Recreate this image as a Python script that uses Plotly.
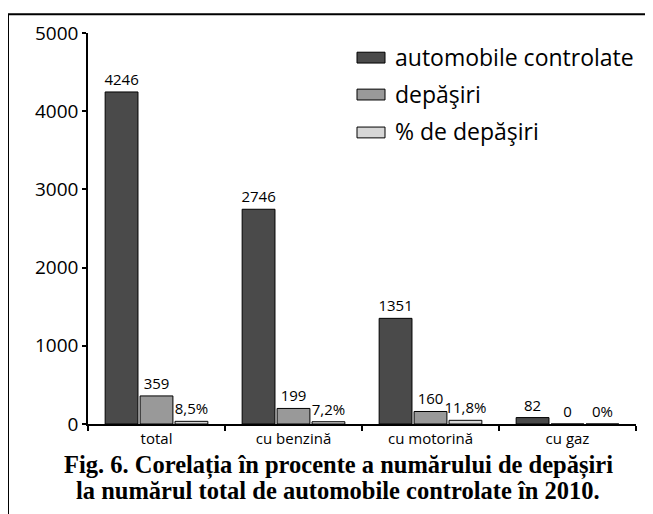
import plotly.graph_objects as go

categories = ["total", "cu benzină", "cu motorină", "cu gaz"]
automobile_controlate = [4246, 2746, 1351, 82]
depasiri = [359, 199, 160, 0]
pct_depasiri_labels = ["8,5%", "7,2%", "11,8%", "0%"]
pct_bar_heights = [34, 29, 47, 0]

series_names = ["automobile controlate", "depăşiri", "% de depăşiri"]
colors = ["#4a4a4a", "#999999", "#d6d6d6"]
y_ticks = [0, 1000, 2000, 3000, 4000, 5000]

# page body has an 8px margin; work in screen pixels and shift
OFF = 8
W, H = 653 - OFF, 514 - OFF
PL, PR, PT, PB = 88, 636, 27, 424  # plot area in screen pixels
L, T = PL - OFF, PT - OFF
R, B = W - (PR - OFF), H - (PB - OFF)
PW, PH = PR - PL, PB - PT


def px(x):
    return (x - PL) / PW


def py(y):
    return (PB - y) / PH


FONT = "Open Sans"
fig = go.Figure()
series_vals = [automobile_controlate, depasiri, pct_bar_heights]
series_text = [[str(v) for v in automobile_controlate], [str(v) for v in depasiri], pct_depasiri_labels]
for name, vals, txt, col in zip(series_names, series_vals, series_text, colors):
    fig.add_trace(go.Bar(
        x=categories, y=vals, name=name, text=txt,
        textposition="outside", cliponaxis=False, constraintext="none",
        textfont=dict(family=FONT, size=15, color="black"),
        marker=dict(color=col, line=dict(color="black", width=1)),
        showlegend=False,
    ))

shapes = []
annotations = []
# manual legend
leg_centers = [52, 89.5, 128]
for name, col, cy in zip(series_names, colors, leg_centers):
    shapes.append(dict(type="rect", xref="paper", yref="paper",
                       x0=px(357), x1=px(385), y0=py(cy + 5.5), y1=py(cy - 5.5),
                       fillcolor=col, line=dict(color="black", width=1)))
    annotations.append(dict(xref="paper", yref="paper", x=px(393), y=py(cy - 1),
                            xanchor="left", yanchor="middle", showarrow=False,
                            text=name, font=dict(family=FONT, size=23, color="black")))

# caption
cap_font = dict(family="Liberation Serif", size=24.5, color="black")
annotations.append(dict(xref="paper", yref="paper", x=px(338), y=py(466),
                        xanchor="center", yanchor="middle", showarrow=False,
                        text="<b>Fig. 6. Corelația în procente a numărului de depășiri</b>", font=cap_font))
annotations.append(dict(xref="paper", yref="paper", x=px(338), y=py(492),
                        xanchor="center", yanchor="middle", showarrow=False,
                        text="<b>la numărul total de automobile controlate în 2010.</b>", font=cap_font))

# outer frame
shapes.append(dict(type="rect", xref="paper", yref="paper",
                   x0=px(8), x1=px(680), y0=py(540), y1=py(8),
                   line=dict(color="black", width=2), fillcolor="rgba(0,0,0,0)", layer="above"))

fig.update_layout(
    width=W, height=H,
    margin=dict(l=L, r=R, t=T, b=B),
    paper_bgcolor="white", plot_bgcolor="white",
    barmode="group", bargap=0.235, bargroupgap=0.06,
    showlegend=False,
    shapes=shapes, annotations=annotations,
    xaxis=dict(
        type="category", showgrid=False, zeroline=False,
        showline=True, linecolor="black", linewidth=1.5,
        ticks="outside", tickson="boundaries", ticklen=5, tickwidth=1.5, tickcolor="black",
        tickfont=dict(family=FONT, size=15, color="black"),
    ),
    yaxis=dict(
        range=[0, 5000], tickvals=y_ticks, showgrid=False, zeroline=False,
        showline=True, linecolor="black", linewidth=1.5,
        ticks="outside", ticklen=4, tickwidth=1.5, tickcolor="black",
        tickfont=dict(family=FONT, size=19, color="black"),
    ),
)

fig.write_html("out.html")
